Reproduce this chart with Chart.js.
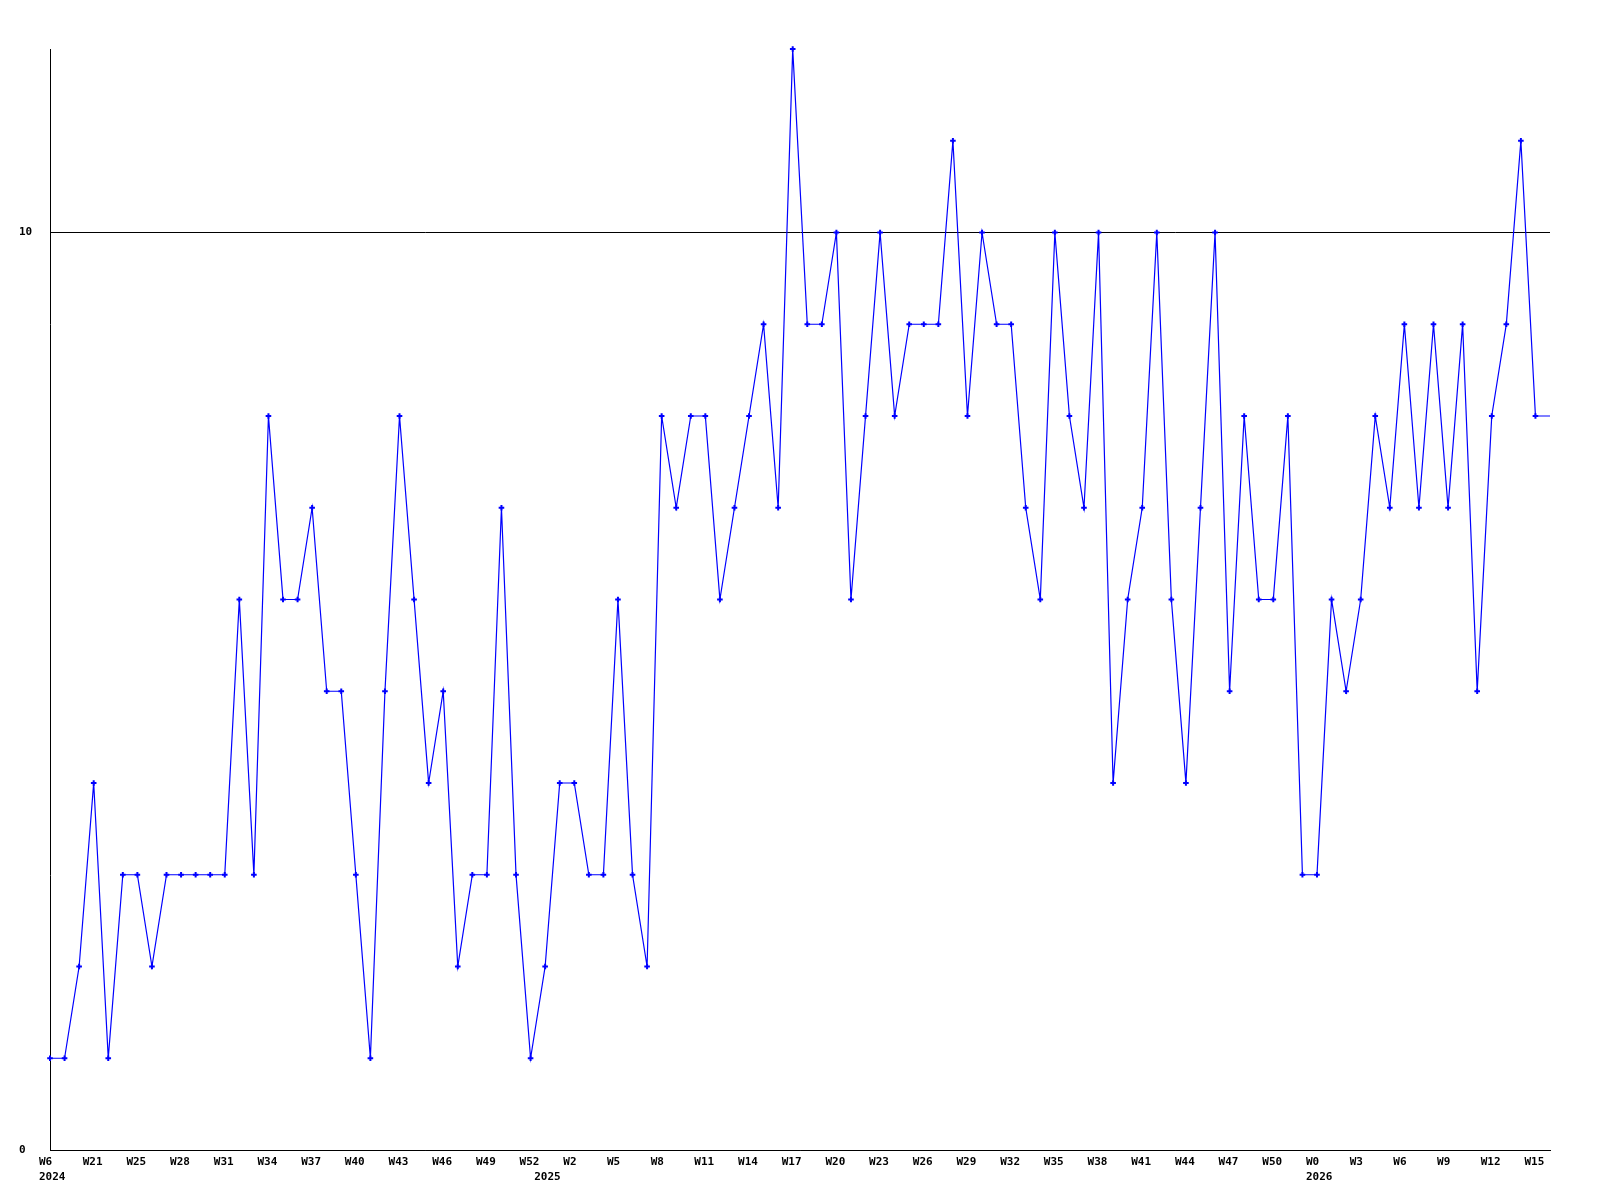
<!DOCTYPE html>
<html>
<head>
<meta charset="utf-8">
<script src="https://cdn.jsdelivr.net/npm/chart.js@4/dist/chart.umd.min.js"></script>
<style>
  html, body { margin: 0; padding: 0; background: #ffffff; }
  #wrap { width: 1600px; height: 1200px; }
</style>
</head>
<body>
<div id="wrap"><canvas id="c" width="1600" height="1200"></canvas></div>
<script>
// ---- data ----
const values = [
  1, 1, 2, 4, 1, 3, 3, 2, 3, 3,
  3, 3, 3, 6, 3, 8, 6, 6, 7, 5,
  5, 3, 1, 5, 8, 6, 4, 5, 2, 3,
  3, 7, 3, 1, 2, 4, 4, 3, 3, 6,
  3, 2, 8, 7, 8, 8, 6, 7, 8, 9,
  7, 12, 9, 9, 10, 6, 8, 10, 8, 9,
  9, 9, 11, 8, 10, 9, 9, 7, 6, 10,
  8, 7, 10, 4, 6, 7, 10, 6, 4, 7,
  10, 5, 8, 6, 6, 8, 3, 3, 6, 5,
  6, 8, 7, 9, 7, 9, 7, 9, 5, 8,
  9, 11, 8, 8
];
const weekTicks = ['W6','W21','W25','W28','W31','W34','W37','W40','W43','W46','W49','W52',
  'W2','W5','W8','W11','W14','W17','W20','W23','W26','W29','W32','W35','W38','W41','W44','W47','W50',
  'W0','W3','W6','W9','W12','W15'];
const weekTickStep = 3;
const yearTicks = ['2024', '2025', '2026'];
const yearTickAt = [0, 34, 87];
const yTicks = [0, 10];

// categories built from the tick label arrays
const categories = values.map((v, i) => {
  const wk = (i % weekTickStep === 0 && weekTicks[i / weekTickStep]) ? weekTicks[i / weekTickStep] : '';
  const yi = yearTickAt.indexOf(i);
  return yi >= 0 ? [wk, yearTicks[yi]] : wk;
});

const FONT = { family: '"DejaVu Sans Mono", "Liberation Mono", monospace', size: 11, weight: 'bold', lineHeight: 1.32 };
const lastIdx = values.length - 1;

new Chart(document.getElementById('c'), {
  type: 'line',
  data: {
    labels: categories,
    datasets: [{
      data: values,
      borderColor: '#0000ff',
      backgroundColor: '#0000ff',
      borderWidth: 1.2,
      tension: 0,
      fill: false,
      clip: false,
      pointStyle: 'cross',
      pointRadius: values.map((v, i) => i === lastIdx ? 0 : 2.8),
      pointBorderWidth: 2,
      pointBorderColor: '#0000ff',
      pointHoverRadius: 3
    }]
  },
  options: {
    responsive: false,
    animation: false,
    devicePixelRatio: 1,
    layout: { padding: { left: 19, top: 49, right: 50, bottom: 0 } },
    plugins: { legend: { display: false }, tooltip: { enabled: false }, title: { display: false } },
    scales: {
      x: {
        type: 'category',
        offset: false,
        grid: { display: false, drawTicks: false, tickLength: 0 },
        border: { display: true, color: '#000000', width: 1 },
        ticks: {
          autoSkip: false,
          maxRotation: 0,
          minRotation: 0,
          align: 'start',
          labelOffset: -11,
          padding: 5,
          color: '#000000',
          font: FONT
        },
        afterFit: (s) => { s.height = 50; }
      },
      y: {
        min: 0,
        max: 12,
        grid: { display: true, color: '#000000', lineWidth: 1, drawTicks: false, tickLength: 0 },
        border: { display: true, color: '#000000', width: 1 },
        ticks: {
          stepSize: 10,
          includeBounds: false,
          crossAlign: 'far',
          padding: 0,
          color: '#000000',
          font: FONT,
          callback: (v) => yTicks.includes(v) ? String(v) : null
        },
        afterFit: (s) => { s.width = 31; }
      }
    }
  }
});
</script>
</body>
</html>
